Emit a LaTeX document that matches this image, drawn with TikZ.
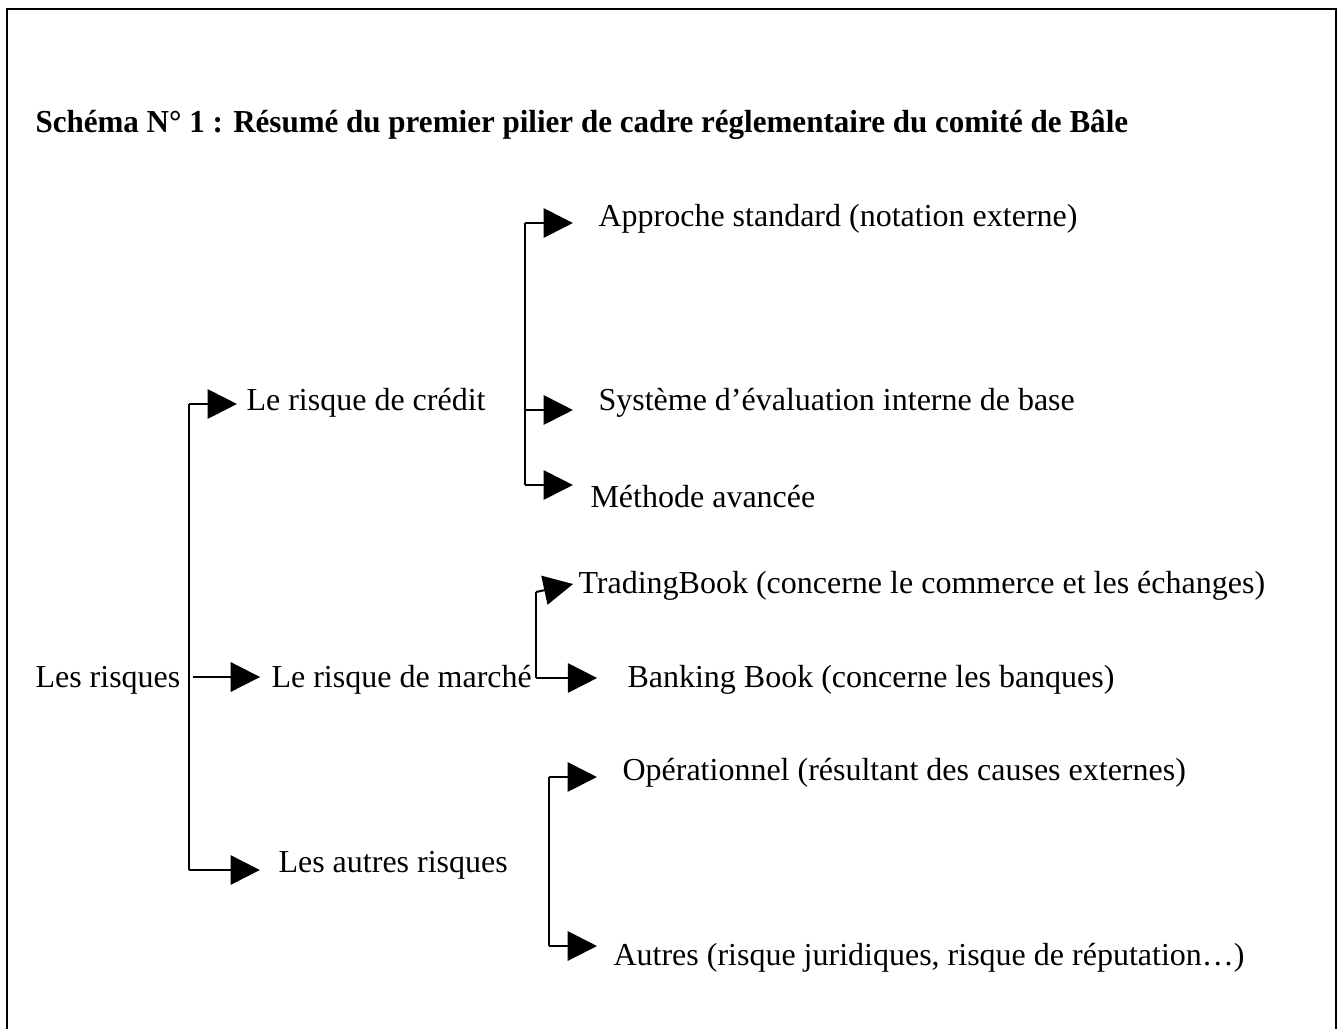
\documentclass[tikz,border=0pt]{standalone}
\usepackage{fontspec}
\setmainfont{Liberation Serif}
\usetikzlibrary{arrows.meta}
\tikzset{
	lbl/.style = {anchor=base west, inner sep=0pt, font=\fontsize{12}{14}\selectfont},
	ttl/.style = {lbl, font=\bfseries\fontsize{12}{14}\selectfont, xscale=0.97, transform shape},
	arr/.style = {-{Triangle[length=11pt,width=11pt]}, line width=0.75pt},
	lnk/.style = {line width=0.75pt},
}

\begin{document}
\begin{tikzpicture}[x=0.375pt, y=-0.375pt]
		\useasboundingbox (0,0) rectangle (1343,1028);

		% frame (open at the bottom)
		\draw[line width=1.1pt] (7,1040) -- (7,9) -- (1336,9) -- (1336,1040);

		% title
		\node[ttl] (title) at (35,132) {Schéma N° 1 : Résumé du premier pilier de cadre réglementaire du comité de Bâle};

		% root and first level
		\node[lbl] (risques) at (35,687) {Les risques};
		\node[lbl] (credit) at (246,410) {Le risque de crédit};
		\node[lbl] (marche) at (271,687) {Le risque de marché};
		\node[lbl] (autres) at (278,872) {Les autres risques};

		% credit branch
		\node[lbl] (standard) at (598,226) {Approche standard (notation externe)};
		\node[lbl] (interne) at (598,410) {Système d’évaluation interne de base};
		\node[lbl] (avancee) at (590,507) {Méthode avancée};

		% market branch
		\node[lbl] (trading) at (578,593) {TradingBook (concerne le commerce et les échanges)};
		\node[lbl] (banking) at (627,687) {Banking Book (concerne les banques)};

		% other risks branch
		\node[lbl] (operation) at (622,780) {Opérationnel (résultant des causes externes)};
		\node[lbl] (divers) at (613,965) {Autres (risque juridiques, risque de réputation…)};

		% main trunk
		\coordinate (t0) at (189,404);
		\coordinate (t1) at (189,677);
		\coordinate (t2) at (189,870);
		\draw[lnk] (t0) -- (t2);
		\draw[arr, shorten >=3.4pt] (t0) -- (t0 -| credit.west);
		\draw[arr, shorten <=4.5pt, shorten >=4.1pt] (risques.east |- t1) -- (t1 -| marche.west);
		\draw[arr, shorten >=6.8pt] (t2) -- (t2 -| autres.west);

		% credit sub-trunk
		\coordinate (c0) at (525,223);
		\coordinate (c1) at (525,410);
		\coordinate (c2) at (525,485);
		\draw[lnk] (c0) -- (c2);
		\draw[arr, shorten >=9.4pt] (c0) -- (c0 -| standard.west);
		\draw[arr, shorten >=9.4pt] (c1) -- (c1 -| interne.west);
		\draw[arr, shorten >=6.4pt] (c2) -- (c2 -| avancee.west);

		% market sub-trunk
		\coordinate (m0) at (536,592);
		\coordinate (m1) at (536,678);
		\draw[lnk] (m0) -- (m1);
		\draw[arr, shorten >=1.9pt] (m0) -- ([yshift=3.4pt]m0 -| trading.west);
		\draw[arr, shorten >=11.2pt] (m1) -- (m1 -| banking.west);

		% other risks sub-trunk
		\coordinate (o0) at (549,777);
		\coordinate (o1) at (549,946);
		\draw[lnk] (o0) -- (o1);
		\draw[arr, shorten >=9.4pt] (o0) -- (o0 -| operation.west);
		\draw[arr, shorten >=6pt] (o1) -- (o1 -| divers.west);

	\end{tikzpicture}
\end{document}
